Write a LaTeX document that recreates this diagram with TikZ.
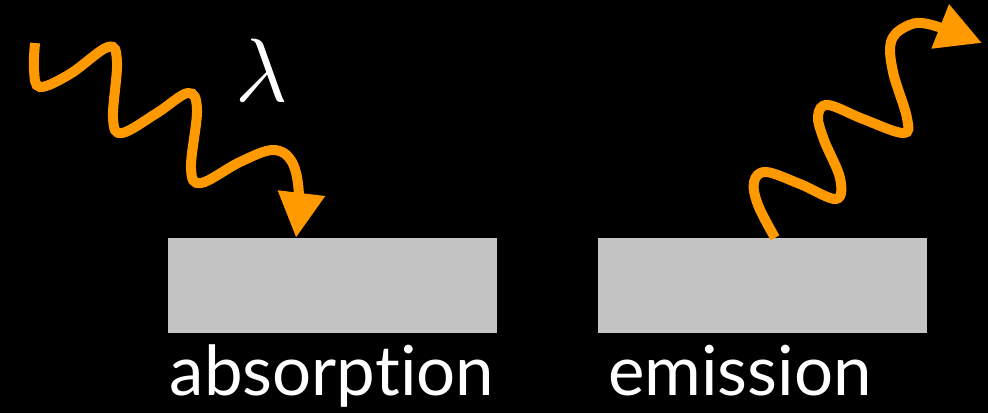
\documentclass[tikz,border=0pt]{standalone}
\usepackage{fontspec}
\setmainfont[Ligatures={NoCommon,NoRare,NoContextual}]{Lato}
\usetikzlibrary{arrows.meta}
\definecolor{wave}{RGB}{255,153,0}
\definecolor{slab}{RGB}{196,196,196}
\tikzset{
  slabbox/.style={fill=slab, draw=none, minimum width=329pt, minimum height=95pt, inner sep=0pt},
  photon/.style={draw=wave, line width=10pt, -{Triangle[length=45pt,width=45pt]}},
  lbl/.style={text=white, font=\fontsize{69}{69}\selectfont, anchor=base, inner sep=0pt}
}
\begin{document}
\begin{tikzpicture}[x=1pt,y=-1pt]
\path[fill=black] (0,0) rectangle (988,413);
\useasboundingbox (0,0) rectangle (988,413);
\node[slabbox] (abs) at (332.5,285.5) {};
\node[slabbox] (emi) at (762.5,285.5) {};
\node[lbl] (abslbl) at (332,395) {absorption};
\node[lbl] (emilbl) at (740,395) {emission};
\node[text=white, inner sep=0pt] (lam) at (262,70) {\scalebox{9}{$\lambda$}};
\coordinate (s1) at (35,43);
\coordinate (e1) at (abs.north west -| 296,0);
\coordinate (s2) at (emi.north west -| 775,0);
\coordinate (e2) at (982,43);
\draw[photon] plot[smooth, tension=0.6] coordinates {
 (s1) (34,70) (40,87) (70,74) (108,47) (117,62) (113,118) (122,133) (157,113) (188,93) (197,110) (191,168) (201,183) (240,162) (273,150) (292,162) (299,195) (e1)};
\draw[photon] plot[smooth, tension=0.6] coordinates {
 (s2) (758,205) (754,182) (766,172) (800,184) (836,199) (840,178) (824,140) (818,116) (828,105) (863,119) (903,133) (907,118) (893,72) (891,42) (905,27) (928,24) (e2)};
\end{tikzpicture}
\end{document}
